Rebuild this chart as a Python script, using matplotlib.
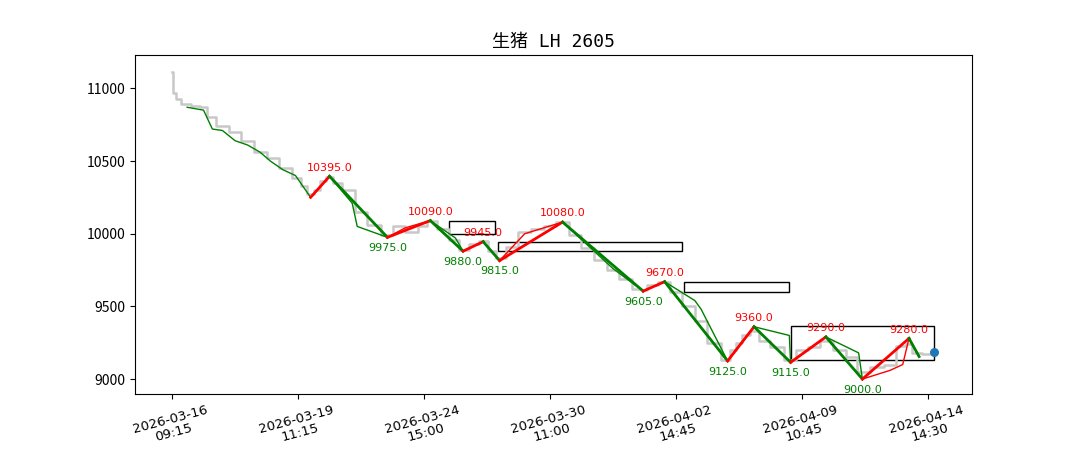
import matplotlib
matplotlib.use("Agg")
import matplotlib.pyplot as plt
from matplotlib.patches import Rectangle

plt.rcParams['font.family'] = ['Noto Sans CJK SC', 'DejaVu Sans']

# gray price series (bar index, price)
px = [0,1,5,10,20,25,30,40,50,60,70,80,90,100,105,110,115,120,125,130,140,150,160,171,180,190,200,205,215,225,231,240,247,255,260,270,280,290,300,310,320,330,340,350,360,370,374,380,391,400,410,420,430,441,445,450,455,462,470,480,491,500,510,519,530,540,548,560,570,580,585,590,600,605]
py = [11110,10970,10930,10890,10880,10870,10800,10740,10700,10640,10560,10520,10450,10380,10330,10270,10300,10360,10390,10350,10300,10150,10060,9990,10050,10010,10050,10090,10030,9960,9890,9930,9950,9880,9830,9910,10010,10030,10050,10080,9990,9900,9820,9750,9690,9620,9610,9650,9670,9600,9500,9400,9250,9130,9200,9250,9300,9330,9260,9220,9130,9200,9220,9260,9200,9150,9050,9080,9100,9230,9240,9180,9170,9185]

# main zigzag pivots
zx = [110,125,171,205,231,247,260,310,374,391,441,462,491,519,548,585,593]
zy = [10250,10395,9975,10090,9880,9945,9815,10080,9605,9670,9125,9360,9115,9290,9000,9280,9155]

# thin sub-lines
thin_g = [
    ([12,25,32,40,50,60,70,78,88,98,110],[10870,10850,10720,10710,10640,10610,10560,10500,10440,10400,10250]),
    ([125,143,147,171],[10395,10210,10050,9975]),
    ([205,225,231],[10090,9970,9880]),
    ([310,325,335,350,374],[10080,9960,9880,9760,9605]),
    ([391,415,420,441],[9670,9540,9480,9125]),
    ([462,490,491],[9360,9300,9115]),
    ([519,545,548],[9290,9180,9000]),
    ([585,593],[9280,9155]),
]
thin_r = [
    ([171,185,205],[9975,10040,10090]),
    ([260,280,310],[9815,10000,10080]),
    ([441,462],[9125,9360]),
    ([491,519],[9115,9290]),
    ([548,570,580,585],[9000,9060,9100,9280]),
]
labels_top = [(125,10395),(205,10090),(247,9945),(310,10080),(391,9670),(462,9360),(519,9290),(585,9280)]
labels_bot = [(171,9975),(231,9880),(260,9815),(374,9605),(441,9125),(491,9115),(548,9000)]

boxes = [(220,256,10000,10088),(259,405,9878,9946),(406,490,9601,9669),(491,605,9128,9365)]

tick_pos = [0,100,200,300,400,500,600]
tick_lab = ["2026-03-16\n09:15","2026-03-19\n11:15","2026-03-24\n15:00","2026-03-30\n11:00",
            "2026-04-02\n14:45","2026-04-09\n10:45","2026-04-14\n14:30"]

fig = plt.figure(figsize=(10.8,4.5), dpi=100)
ax = fig.add_axes([0.125, 0.125, 0.775, 0.753])
ax.plot(px, py, color='#c8c8c8', lw=1.8, drawstyle='steps-mid')
for xs, ys in thin_g:
    ax.plot(xs, ys, color='green', lw=1)
for xs, ys in thin_r:
    ax.plot(xs, ys, color='red', lw=1)
for i in range(len(zx)-1):
    c = 'red' if zy[i+1] > zy[i] else 'green'
    ax.plot(zx[i:i+2], zy[i:i+2], color=c, lw=2)
for x, y in labels_top:
    ax.text(x, y+25, f"{y:.1f}", color='red', fontsize=8, ha='center', va='bottom', family='DejaVu Sans')
for x, y in labels_bot:
    ax.text(x, y-40, f"{y:.1f}", color='green', fontsize=8, ha='center', va='top', family='DejaVu Sans')
for x0, x1, y0, y1 in boxes:
    ax.add_patch(Rectangle((x0, y0), x1-x0, y1-y0, fill=False, ec='black', lw=1))
ax.scatter([605],[9185], s=30, color='#1f77b4', zorder=5)
ax.set_xlim(-29.4, 635)
ax.set_ylim(8899, 11230)
ax.set_yticks([9000,9500,10000,10500,11000])
ax.set_xticks(tick_pos)
ax.set_xticklabels(tick_lab, rotation=15, ha='center', family='DejaVu Sans', fontsize=9.5, linespacing=1.0)
ax.set_title("生猪 LH 2605", fontsize=13, family=['DejaVu Sans Mono', 'Noto Sans CJK SC'])
fig.savefig("out.png")
